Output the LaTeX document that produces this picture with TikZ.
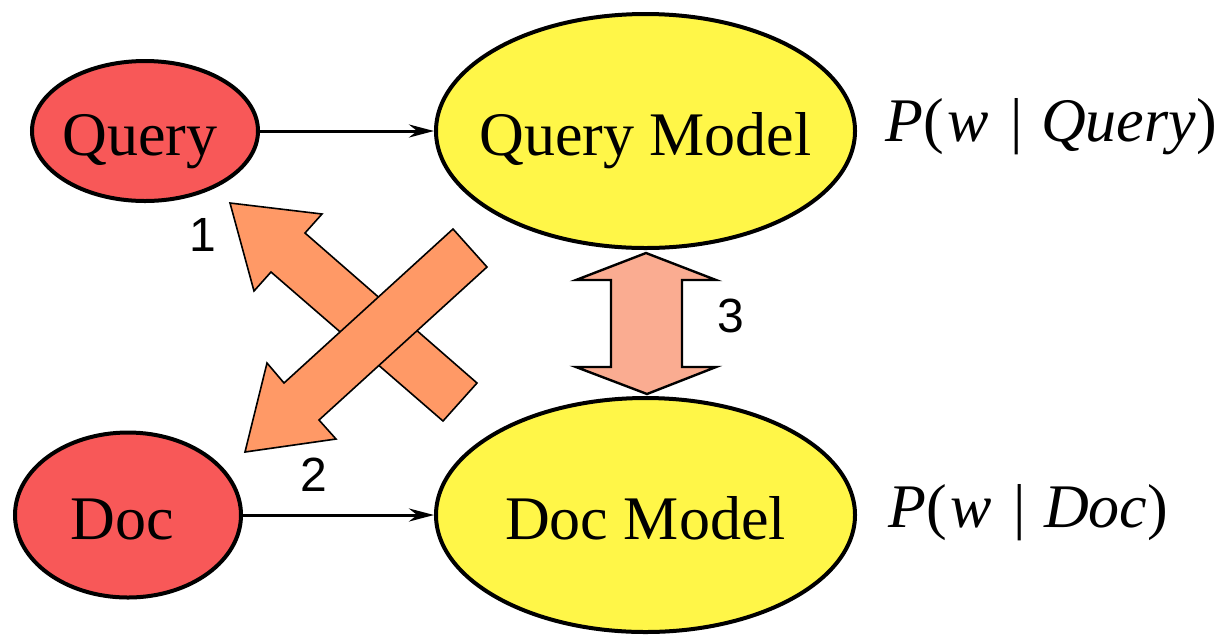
\documentclass[tikz,border=0pt]{standalone}
\usepackage{fontspec}
\setmainfont{Liberation Serif}
\newfontfamily\sansdigits{Liberation Sans}
\usetikzlibrary{shapes.geometric,arrows.meta}
\definecolor{redfill}{RGB}{248,88,88}
\definecolor{yellowfill}{RGB}{255,246,72}
\definecolor{bigarrow}{RGB}{255,153,102}
\definecolor{dblarrow}{RGB}{250,172,145}
\newcommand{\zw}[1]{\makebox[0pt][c]{#1}}
\begin{document}
\begin{tikzpicture}[x=0.5pt,y=-0.5pt,
  ell/.style={ellipse,draw=black,line width=2pt,inner sep=0pt,
    font=\fontsize{31}{31}\selectfont,text height=24pt,text depth=0pt},
  src/.style={ell,fill=redfill,minimum width=113pt},
  mdl/.style={ell,fill=yellowfill,minimum width=209.5pt,minimum height=117pt},
  link/.style={line width=1.5pt,-{Stealth[length=12.5pt,width=6.5pt]}},
  blockarrow/.style={fill=bigarrow,draw=black,line width=0.8pt,line join=miter},
  dblstyle/.style={fill=dblarrow,draw=black,line width=1.2pt,line join=miter},
  num/.style={font=\sansdigits\fontsize{24}{24}\selectfont,inner sep=0pt},
  prob/.style={font=\fontsize{31}{31}\selectfont,inner sep=0pt,anchor=base west}]
\useasboundingbox (0,0) rectangle (1219,634);
% ellipses
\node[src,minimum height=70pt] (q) at (145,131) {\zw{\hspace{-5pt}Query}};
\node[src,minimum height=82.5pt] (d) at (128,515) {\zw{\hspace{-6pt}Doc}};
\node[mdl] (qm) at (645.5,131) {\zw{Query Model}};
\node[mdl] (dm) at (645.5,515) {\zw{Doc Model}};
% connectors
\draw[link] (q) -- (qm);
\draw[link] (d) -- (dm);
% big crossing arrows
\draw[blockarrow] (230,203) -- (322,214) -- (305,233) -- (477,383) -- (443,421) -- (271,272) -- (254,291) -- cycle;
\draw[blockarrow] (453,229) -- (487,267) -- (319,420) -- (336,439) -- (245,452) -- (267,363) -- (284,383) -- cycle;
% double arrow
\draw[dblstyle] (646,253) -- (716,280) -- (682,280) -- (682,367) -- (716,367) -- (647,394) -- (576,367) -- (611,367) -- (611,280) -- (576,280) -- cycle;
% numbers
\node[num] (n1) at (203,235) {1};
\node[num] (n2) at (314,475) {2};
\node[num] (n3) at (731,316) {3};
% probabilities
\node[prob] (pq) at (885,141) {\textit{P}(\hspace{0.05em}\textit{w}\hspace{0.35em}|\hspace{0.3em}\textit{Query})};
\node[prob] (pd) at (888,527) {\textit{P}(\hspace{0.05em}\textit{w}\hspace{0.35em}|\hspace{0.3em}\textit{Doc})};
\end{tikzpicture}
\end{document}
